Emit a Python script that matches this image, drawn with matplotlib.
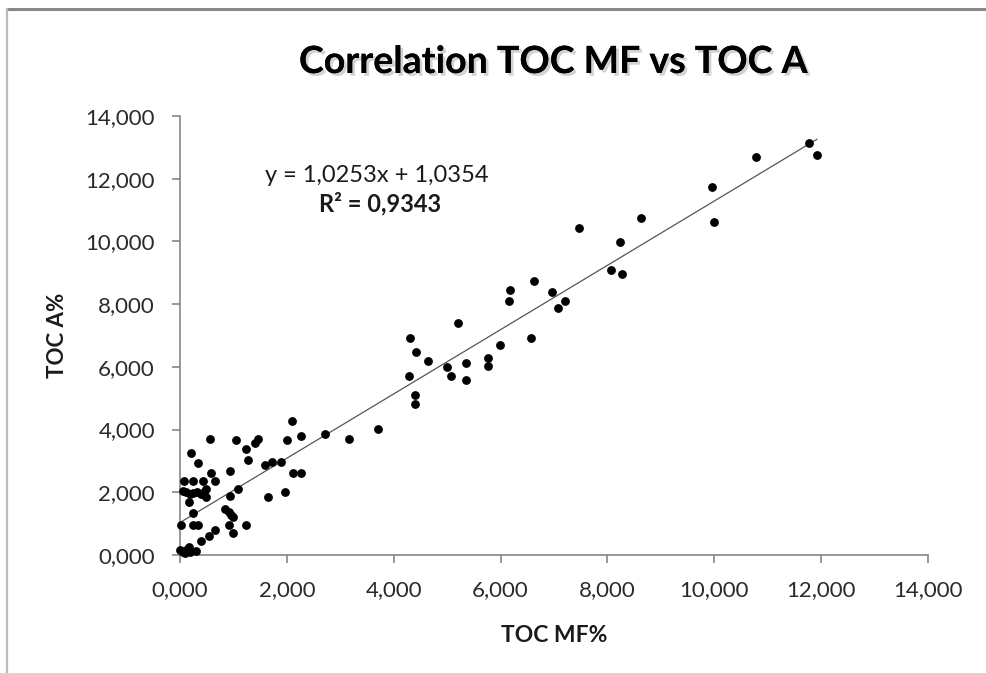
import numpy as np
import matplotlib
matplotlib.use("Agg")
import matplotlib.pyplot as plt
import matplotlib.patheffects as pe
from matplotlib.ticker import FuncFormatter, MultipleLocator

plt.rcParams['font.family'] = ['Lato', 'DejaVu Sans']

# TOC MF% (x) vs TOC A% (y)
toc_mf = [0.00, 0.05, 0.11, 0.16, 0.10, 0.19, 0.30,
          0.39, 0.54, 0.66, 1.00,
          0.02, 0.25, 0.33, 0.91, 1.24,
          0.85, 0.91, 0.96, 1.00,
          0.24, 0.16,
          0.05, 0.12, 0.19, 0.25, 0.31, 0.39, 0.44, 0.48, 0.49,
          0.93, 1.08, 1.65, 1.96,
          0.08, 0.24, 0.43, 0.66,
          0.58, 0.94, 2.12, 2.26,
          0.34, 1.59, 1.72, 1.89, 1.28,
          0.21, 1.24,
          0.56, 1.05, 1.46, 1.41, 2.00, 2.26, 2.71, 3.16, 2.09,
          3.70, 4.40, 4.40,
          4.28, 5.07, 5.36, 5.00, 5.36, 5.76, 5.76, 4.64, 5.98, 4.42, 4.30, 6.57, 5.20,
          6.16, 6.18, 6.62, 6.97, 7.07, 7.21,
          7.47, 8.06, 8.27, 8.24, 8.62, 9.96, 9.99, 10.78, 11.78, 11.92]
toc_a = [0.16, 0.10, 0.16, 0.27, 0.05, 0.10, 0.13,
         0.46, 0.61, 0.80, 0.71,
         0.95, 0.95, 0.95, 0.95, 0.95,
         1.46, 1.36, 1.28, 1.20,
         1.35, 1.70,
         2.05, 2.02, 1.95, 1.97, 2.02, 1.95, 2.02, 2.10, 1.86,
         1.88, 2.10, 1.86, 2.01,
         2.35, 2.35, 2.35, 2.35,
         2.60, 2.67, 2.60, 2.60,
         2.92, 2.88, 2.98, 2.97, 3.04,
         3.26, 3.39,
         3.71, 3.66, 3.71, 3.56, 3.66, 3.79, 3.87, 3.71, 4.27,
         4.03, 4.81, 5.11,
         5.72, 5.72, 5.59, 6.00, 6.12, 6.04, 6.28, 6.18, 6.70, 6.48, 6.91, 6.91, 7.39,
         8.09, 8.46, 8.73, 8.39, 7.87, 8.09,
         10.44, 9.08, 8.95, 9.99, 10.76, 11.72, 10.63, 12.69, 13.14, 12.77]

# linear trend line as reported in the chart
slope = 1.0253
intercept = 1.0354
r2 = 0.9343

x = np.array(toc_mf)
y = np.array(toc_a)

fig = plt.figure(figsize=(9.87, 6.73), dpi=100)
ax = fig.add_axes([180 / 987, 1 - 555 / 673, (928 - 180) / 987, (555 - 116) / 673])

xl = np.array([0.0, x.max()])
ax.plot(xl, slope * xl + intercept, color='#555555', lw=0.9, zorder=2)
ax.plot(x, y, 'o', color='black', ms=5.3, zorder=3)

ax.set_xlim(0, 14)
ax.set_ylim(0, 14)
ax.xaxis.set_major_locator(MultipleLocator(2))
ax.yaxis.set_major_locator(MultipleLocator(2))
fmt = FuncFormatter(lambda v, p: f"{v:.3f}".replace('.', ','))
ax.xaxis.set_major_formatter(fmt)
ax.yaxis.set_major_formatter(fmt)

for s in ['top', 'right']:
    ax.spines[s].set_visible(False)
for s in ['left', 'bottom']:
    ax.spines[s].set_color('#868686')
    ax.spines[s].set_linewidth(1.2)
ax.tick_params(colors='#868686', labelcolor='#2a2a2a', length=6, width=1.2,
               labelsize=16)
ax.tick_params(axis='x', pad=12)
ax.tick_params(axis='y', pad=12)
for ln in ax.lines:
    ln.set_clip_on(False)

ax.set_xlabel('TOC MF%', fontsize=16.5, fontweight='bold', color='#1a1a1a')
ax.set_ylabel('TOC A%', fontsize=16, fontweight='bold', color='#1a1a1a')
ax.xaxis.label.set_va('center')
ax.yaxis.label.set_va('center')
ax.xaxis.set_label_coords(0.5, (555 - 635) / 439)
ax.yaxis.set_label_coords((58 - 180) / 748, 0.5)

fig.text(553 / 987, 1 - 62 / 673, 'Correlation TOC MF vs TOC A', ha='center', va='center',
         fontsize=27, fontweight='bold', color='black',
         path_effects=[pe.withSimplePatchShadow(offset=(2, -2), alpha=0.35, shadow_rgbFace='gray'),
                       pe.Normal()])

fig.text(377 / 987, 1 - 175 / 673, 'y = 1,0253x + 1,0354', ha='center', va='center',
         fontsize=17, color='#1a1a1a')
fig.text(380 / 987, 1 - 204 / 673, 'R² = 0,9343', ha='center', va='center',
         fontsize=17, fontweight='bold', color='#1a1a1a')

# outer chart frame (top and left edges)
fig.add_artist(plt.Line2D([7 / 987, 1], [1 - 8.5 / 673, 1 - 8.5 / 673],
                          color='#888888', lw=2.2, transform=fig.transFigure))
fig.add_artist(plt.Line2D([7 / 987, 7 / 987], [0, 1 - 8.5 / 673],
                          color='#bbbbbb', lw=1.6, transform=fig.transFigure))

fig.savefig('out.png', dpi=100)
